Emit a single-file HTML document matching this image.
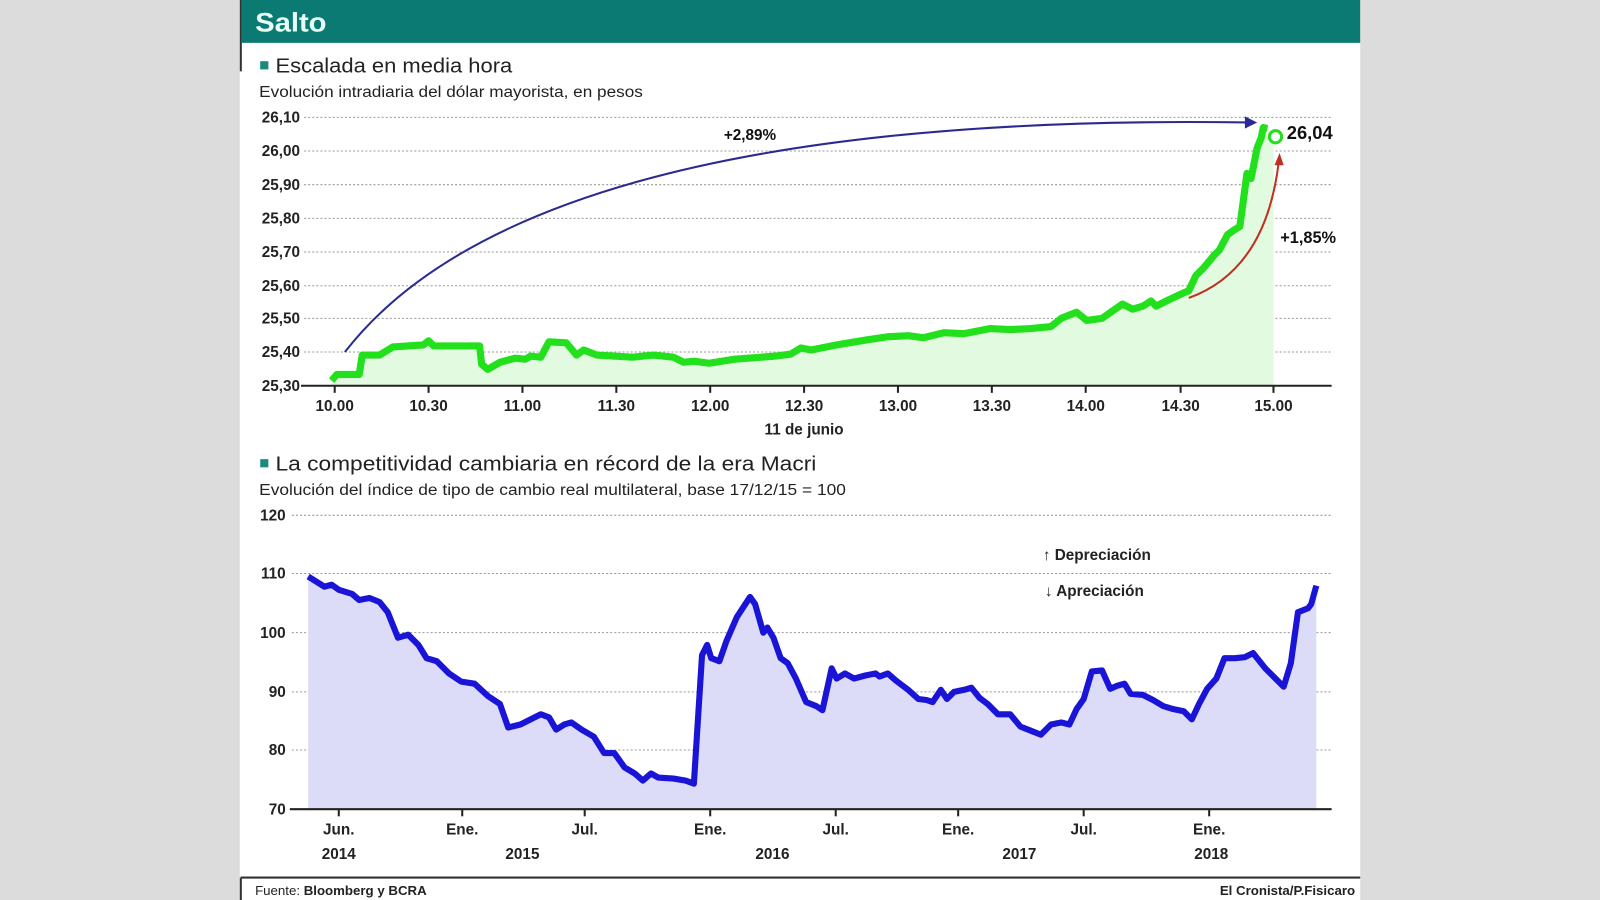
<!DOCTYPE html>
<html><head><meta charset="utf-8"><style>
html,body{margin:0;padding:0;background:#dcdcdc;}
svg{display:block;font-family:"Liberation Sans",sans-serif;}
</style></head><body>
<svg width="1600" height="900" viewBox="0 0 1568 882" preserveAspectRatio="none" xmlns="http://www.w3.org/2000/svg">
<rect x="0" y="0" width="1568" height="882" fill="#dcdcdc"/>
<rect x="235" y="0" width="1098" height="882" fill="#ffffff"/>
<rect x="237" y="0" width="1096" height="42" fill="#0b7a72"/>
<line x1="236" y1="0" x2="236" y2="70" stroke="#333" stroke-width="2"/>
<text x="250" y="31" font-size="26" font-weight="bold" fill="#e8fff8" textLength="70" lengthAdjust="spacingAndGlyphs">Salto</text>

<rect x="255" y="60" width="8" height="8" fill="#1a8a7c"/>
<text x="270" y="71" font-size="20" fill="#222" textLength="232" lengthAdjust="spacingAndGlyphs">Escalada en media hora</text>
<text x="254" y="95" font-size="15" fill="#222" textLength="376" lengthAdjust="spacingAndGlyphs">Evolución intradiaria del dólar mayorista, en pesos</text>

<g stroke="#999" stroke-width="1" stroke-dasharray="2,2">
<line x1="298" y1="115" x2="1305" y2="115"/><line x1="298" y1="148" x2="1305" y2="148"/>
<line x1="298" y1="181" x2="1305" y2="181"/><line x1="298" y1="214" x2="1305" y2="214"/>
<line x1="298" y1="247" x2="1305" y2="247"/><line x1="298" y1="280" x2="1305" y2="280"/>
<line x1="298" y1="312" x2="1305" y2="312"/><line x1="298" y1="345" x2="1305" y2="345"/>
</g>
<g font-size="15" font-weight="bold" fill="#222" text-anchor="end">
<text x="294" y="120">26,10</text><text x="294" y="153">26,00</text><text x="294" y="186">25,90</text>
<text x="294" y="219">25,80</text><text x="294" y="252">25,70</text><text x="294" y="285">25,60</text>
<text x="294" y="317">25,50</text><text x="294" y="350">25,40</text><text x="294" y="383">25,30</text>
</g>
<polygon fill="#e2fbe0" points="325,378 325,373 330,367 352,367 355,348 372,348 385,340 415,338 420,334 425,339 470,339 472,357 478,362 490,355 505,351 515,352 520,349 530,350 538,335 555,336 565,348 572,343 585,348 620,350 640,348 660,350 670,355 680,354 695,356 720,352 760,349 775,347 785,341 795,343 820,338 850,333 870,330 890,329 905,331 925,326 945,327 970,322 990,323 1010,322 1030,320 1040,312 1055,306 1065,314 1080,312 1090,305 1100,298 1110,303 1120,300 1128,295 1133,300 1145,294 1160,287 1165,285 1172,270 1180,262 1190,250 1195,245 1203,230 1210,225 1215,222 1218,200 1222,170 1226,175 1232,145 1236,135 1238,125 1242,126 1248,130 1248,378"/>
<polyline fill="none" stroke="#22e01c" stroke-width="7" stroke-linejoin="round" points="325,373 330,367 352,367 355,348 372,348 385,340 415,338 420,334 425,339 470,339 472,357 478,362 490,355 505,351 515,352 520,349 530,350 538,335 555,336 565,348 572,343 585,348 620,350 640,348 660,350 670,355 680,354 695,356 720,352 760,349 775,347 785,341 795,343 820,338 850,333 870,330 890,329 905,331 925,326 945,327 970,322 990,323 1010,322 1030,320 1040,312 1055,306 1065,314 1080,312 1090,305 1100,298 1110,303 1120,300 1128,295 1133,300 1145,294 1160,287 1165,285 1172,270 1180,262 1190,250 1195,245 1203,230 1210,225 1215,222 1218,200 1222,170 1226,175 1232,145 1236,135 1238,125 1242,126"/>
<circle cx="1250" cy="134" r="6" fill="#fff" stroke="#22e01c" stroke-width="3"/>
<text x="1261" y="136" font-size="18" font-weight="bold" fill="#111">26,04</text>
<line x1="295" y1="378" x2="1305" y2="378" stroke="#222" stroke-width="2"/>
<g stroke="#222" stroke-width="2">
<line x1="328" y1="378" x2="328" y2="385"/><line x1="420" y1="378" x2="420" y2="385"/><line x1="512" y1="378" x2="512" y2="385"/>
<line x1="604" y1="378" x2="604" y2="385"/><line x1="696" y1="378" x2="696" y2="385"/><line x1="788" y1="378" x2="788" y2="385"/>
<line x1="880" y1="378" x2="880" y2="385"/><line x1="972" y1="378" x2="972" y2="385"/><line x1="1064" y1="378" x2="1064" y2="385"/>
<line x1="1157" y1="378" x2="1157" y2="385"/><line x1="1248" y1="378" x2="1248" y2="385"/>
</g>
<g font-size="15" font-weight="bold" fill="#222" text-anchor="middle">
<text x="328" y="403">10.00</text><text x="420" y="403">10.30</text><text x="512" y="403">11.00</text><text x="604" y="403">11.30</text>
<text x="696" y="403">12.00</text><text x="788" y="403">12.30</text><text x="880" y="403">13.00</text><text x="972" y="403">13.30</text>
<text x="1064" y="403">14.00</text><text x="1157" y="403">14.30</text><text x="1248" y="403">15.00</text>
<text x="788" y="426">11 de junio</text>
</g>
<path d="M338,345 Q520,110 1222,120" fill="none" stroke="#2a2a90" stroke-width="2"/>
<polygon points="1232,120 1220,114 1220,126" fill="#2a2a90"/>
<text x="735" y="137" font-size="15" font-weight="bold" fill="#111" text-anchor="middle">+2,89%</text>
<path d="M1165,292 Q1240,265 1253,160" fill="none" stroke="#c03020" stroke-width="2"/>
<polygon points="1254,150 1249,162 1258,162" fill="#c03020"/>
<text x="1282" y="238" font-size="16" font-weight="bold" fill="#111" text-anchor="middle">+1,85%</text>

<rect x="255" y="450" width="8" height="8" fill="#1a8a7c"/>
<text x="270" y="461" font-size="20" fill="#222" textLength="530" lengthAdjust="spacingAndGlyphs">La competitividad cambiaria en récord de la era Macri</text>
<text x="254" y="485" font-size="15" fill="#222" textLength="575" lengthAdjust="spacingAndGlyphs">Evolución del  índice de tipo de cambio real multilateral, base 17/12/15 = 100</text>

<g stroke="#999" stroke-width="1" stroke-dasharray="2,2">
<line x1="286" y1="505" x2="1305" y2="505"/><line x1="286" y1="562" x2="1305" y2="562"/>
<line x1="286" y1="620" x2="1305" y2="620"/><line x1="286" y1="678" x2="1305" y2="678"/>
<line x1="286" y1="735" x2="1305" y2="735"/>
</g>
<g font-size="15" font-weight="bold" fill="#222" text-anchor="end">
<text x="280" y="510">120</text><text x="280" y="567">110</text><text x="280" y="625">100</text>
<text x="280" y="683">90</text><text x="280" y="740">80</text><text x="280" y="798">70</text>
</g>
<polygon fill="#dcdcf8" points="302,793 302,565 310,570 318,575 325,573 332,578 345,582 352,588 362,586 372,590 380,600 390,625 400,622 410,632 418,645 428,648 440,660 452,668 465,670 478,682 490,690 498,713 510,710 520,705 530,700 538,703 545,715 553,710 560,708 570,715 582,722 592,738 602,738 612,752 622,758 630,765 638,758 645,762 660,763 672,765 680,768 688,642 693,632 697,645 705,648 712,628 722,605 735,585 740,592 748,620 752,615 758,625 765,645 772,650 780,665 790,688 800,692 806,696 815,655 820,665 828,660 837,665 848,662 858,660 862,663 870,660 878,667 890,676 900,685 908,686 914,688 922,676 928,685 935,678 945,676 952,674 960,684 968,690 978,700 990,700 1000,712 1010,716 1020,720 1030,710 1040,708 1048,710 1055,695 1062,685 1070,658 1080,657 1088,675 1095,672 1102,670 1108,680 1120,681 1130,686 1140,692 1150,695 1160,697 1168,705 1175,690 1183,675 1192,665 1200,645 1210,645 1220,644 1228,640 1240,655 1250,665 1258,673 1265,650 1272,600 1282,596 1285,592 1290,574 1290,793"/>
<polyline fill="none" stroke="#1a14d6" stroke-width="6" stroke-linejoin="round" points="302,565 310,570 318,575 325,573 332,578 345,582 352,588 362,586 372,590 380,600 390,625 400,622 410,632 418,645 428,648 440,660 452,668 465,670 478,682 490,690 498,713 510,710 520,705 530,700 538,703 545,715 553,710 560,708 570,715 582,722 592,738 602,738 612,752 622,758 630,765 638,758 645,762 660,763 672,765 680,768 688,642 693,632 697,645 705,648 712,628 722,605 735,585 740,592 748,620 752,615 758,625 765,645 772,650 780,665 790,688 800,692 806,696 815,655 820,665 828,660 837,665 848,662 858,660 862,663 870,660 878,667 890,676 900,685 908,686 914,688 922,676 928,685 935,678 945,676 952,674 960,684 968,690 978,700 990,700 1000,712 1010,716 1020,720 1030,710 1040,708 1048,710 1055,695 1062,685 1070,658 1080,657 1088,675 1095,672 1102,670 1108,680 1120,681 1130,686 1140,692 1150,695 1160,697 1168,705 1175,690 1183,675 1192,665 1200,645 1210,645 1220,644 1228,640 1240,655 1250,665 1258,673 1265,650 1272,600 1282,596 1285,592 1290,574"/>
<line x1="284" y1="793" x2="1305" y2="793" stroke="#222" stroke-width="2"/>
<g stroke="#222" stroke-width="2">
<line x1="332" y1="793" x2="332" y2="800"/><line x1="453" y1="793" x2="453" y2="800"/><line x1="573" y1="793" x2="573" y2="800"/>
<line x1="696" y1="793" x2="696" y2="800"/><line x1="819" y1="793" x2="819" y2="800"/><line x1="939" y1="793" x2="939" y2="800"/>
<line x1="1062" y1="793" x2="1062" y2="800"/><line x1="1185" y1="793" x2="1185" y2="800"/>
</g>
<g font-size="15" font-weight="bold" fill="#222" text-anchor="middle">
<text x="332" y="818">Jun.</text><text x="453" y="818">Ene.</text><text x="573" y="818">Jul.</text><text x="696" y="818">Ene.</text>
<text x="819" y="818">Jul.</text><text x="939" y="818">Ene.</text><text x="1062" y="818">Jul.</text><text x="1185" y="818">Ene.</text>
<text x="332" y="842">2014</text><text x="512" y="842">2015</text><text x="757" y="842">2016</text><text x="999" y="842">2017</text><text x="1187" y="842">2018</text>
</g>
<g font-size="15" font-weight="bold" fill="#222">
<text x="1022" y="549">↑ Depreciación</text>
<text x="1024" y="584">↓ Apreciación</text>
</g>

<line x1="236" y1="860" x2="1333" y2="860" stroke="#333" stroke-width="2"/>
<line x1="236" y1="860" x2="236" y2="882" stroke="#333" stroke-width="2"/>
<text x="250" y="877" font-size="13" fill="#222">Fuente: <tspan font-weight="bold">Bloomberg y BCRA</tspan></text>
<text x="1328" y="877" font-size="13" font-weight="bold" fill="#222" text-anchor="end">El Cronista/P.Fisicaro</text>
</svg>
</body></html>
